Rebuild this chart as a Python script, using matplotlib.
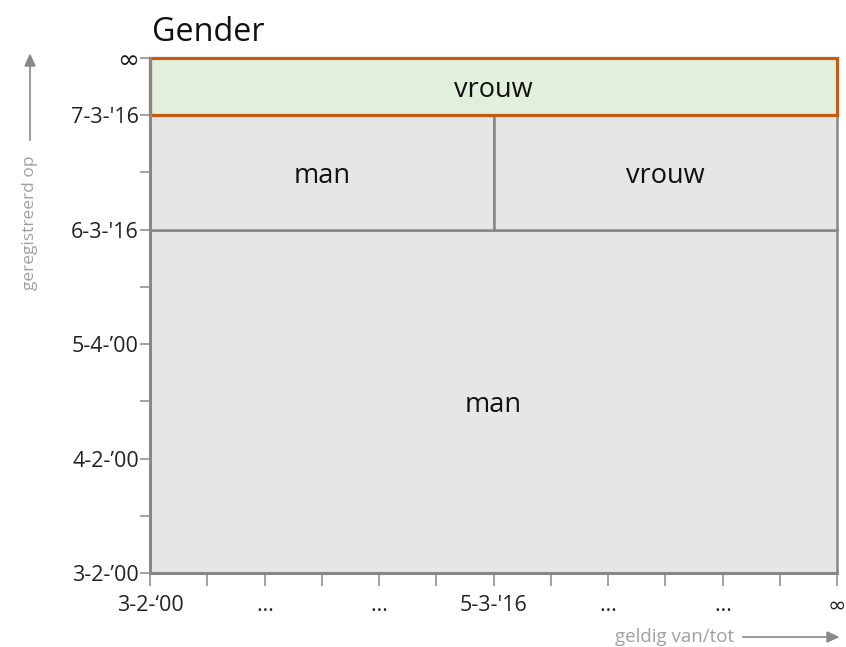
import matplotlib.pyplot as plt
from matplotlib.patches import Rectangle

plt.rcParams['font.family'] = ['Open Sans', 'DejaVu Sans']

# x: geldig van/tot, y: geregistreerd op (tick index units)
x_ticks = list(range(13))
x_labels = ["3-2-\u201800", "", "\u2026", "", "\u2026", "", "5-3-'16", "", "\u2026", "", "\u2026", "", "\u221e"]
y_ticks = list(range(10))
y_labels = ["3-2-\u201900", "", "4-2-\u201900", "", "5-4-\u201900", "", "6-3-'16", "", "7-3-'16", "\u221e"]

# cells: (x_start, x_end, y_start, y_end, label)
cell_x0 = [0, 0, 6, 0]
cell_x1 = [12, 6, 12, 12]
cell_y0 = [0, 6, 6, 8]
cell_y1 = [6, 8, 8, 9]
cell_labels = ["man", "man", "vrouw", "vrouw"]
current = [False, False, False, True]


def main():
    fig = plt.figure(figsize=(8.46, 6.47), dpi=100)
    ax = fig.add_axes([150 / 846, 1 - 573 / 647, 687 / 846, 515 / 647])
    ax.set_xlim(0, 12)
    ax.set_ylim(0, 9)

    for x0, x1, y0, y1, lab, cur in zip(cell_x0, cell_x1, cell_y0, cell_y1, cell_labels, current):
        if cur:
            fc, ec, lw, z = "#e2efda", "#c55a11", 2.3, 3
        else:
            fc, ec, lw, z = "#e6e6e6", "#878787", 1.8, 2
        ax.add_patch(Rectangle((x0, y0), x1 - x0, y1 - y0, facecolor=fc, edgecolor=ec,
                               linewidth=lw, zorder=z, clip_on=False))
        ax.text((x0 + x1) / 2, (y0 + y1) / 2, lab, ha="center", va="center_baseline",
                fontsize=19.5, color="#111111", zorder=4)

    for side in ["top", "right"]:
        ax.spines[side].set_visible(False)
    for side in ["left", "bottom"]:
        ax.spines[side].set_color("#878787")
        ax.spines[side].set_linewidth(2.2)
        ax.spines[side].set_zorder(5)

    ax.set_xticks(x_ticks)
    ax.set_xticklabels(x_labels, fontsize=15.5, color="#222222")
    ax.set_yticks(y_ticks)
    ax.set_yticklabels(y_labels, fontsize=15.5, color="#222222")
    ax.tick_params(axis="x", length=9, width=1.1, color="#878787", pad=7)
    ax.tick_params(axis="y", length=7, width=1.1, color="#878787", pad=1)
    for lab in ax.get_xticklabels():
        if lab.get_text() == "\u221e":
            lab.set_fontfamily("DejaVu Sans")
            lab.set_fontsize(16)
    for lab in ax.get_yticklabels():
        if lab.get_text() == "\u221e":
            lab.set_fontfamily("DejaVu Sans")
            lab.set_fontsize(19)

    fig.text(152 / 846, 1 - 41 / 647, "Gender", fontsize=23.3, color="#111111",
             ha="left", va="baseline")

    grey = "#a0a0a0"
    fig.text(30 / 846, 1 - 223 / 647, "geregistreerd op", rotation=90, fontsize=12.5,
             color=grey, ha="center", va="center")
    fig.add_artist(plt.Line2D([30 / 846, 30 / 846], [1 - 140 / 647, 1 - 62 / 647],
                              color="#888888", lw=1.2))
    fig.patches.append(plt.Polygon([[25 / 846, 1 - 66 / 647], [35 / 846, 1 - 66 / 647],
                                    [30 / 846, 1 - 55 / 647]], closed=True,
                                   transform=fig.transFigure, color="#888888"))

    fig.text(675 / 846, 1 - 637 / 647, "geldig van/tot", fontsize=13.5,
             color=grey, ha="center", va="center")
    fig.add_artist(plt.Line2D([743 / 846, 830 / 846], [1 - 637 / 647, 1 - 637 / 647],
                              color="#888888", lw=1.2))
    fig.patches.append(plt.Polygon([[827 / 846, 1 - 632 / 647], [827 / 846, 1 - 642 / 647],
                                    [838 / 846, 1 - 637 / 647]], closed=True,
                                   transform=fig.transFigure, color="#888888"))

    fig.savefig("out.png", dpi=100)


if __name__ == "__main__":
    main()
